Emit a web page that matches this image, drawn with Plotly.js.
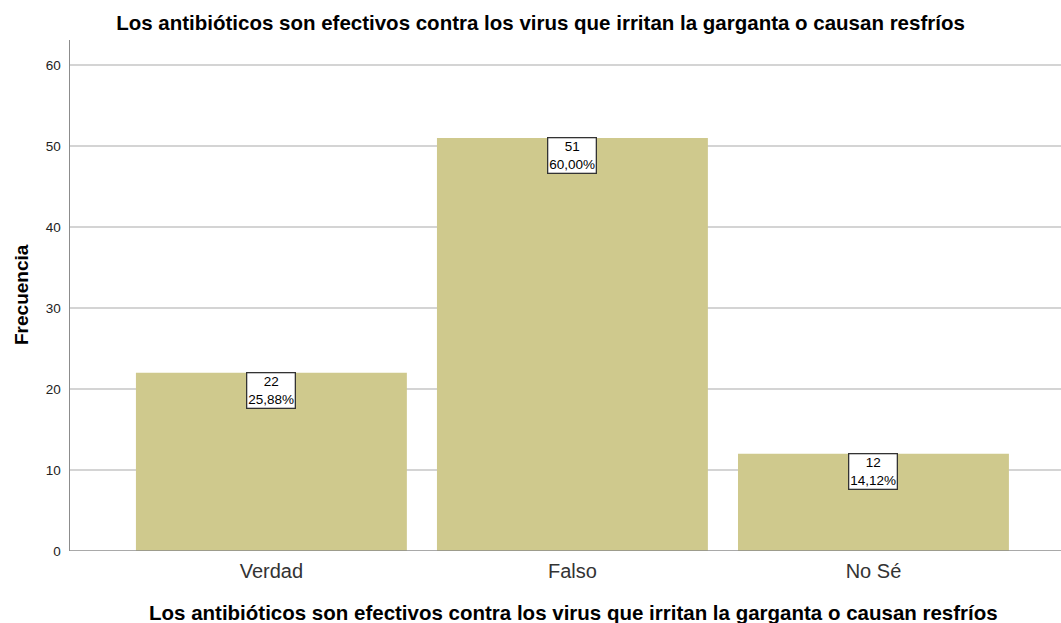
<!DOCTYPE html>
<html>
<head>
<meta charset="utf-8">
<script src="https://cdn.plot.ly/plotly-3.0.1.min.js"></script>
<style>html,body{margin:0;padding:0;background:#fff;}#chart{width:1061px;height:623px;}</style>
</head>
<body>
<div id="chart"></div>
<script>
const categories = ["Verdad", "Falso", "No Sé"];
const counts = [22, 51, 12];
const percentLabels = ["25,88%", "60,00%", "14,12%"];
const yTicks = [0, 10, 20, 30, 40, 50, 60];

const FONT = "Liberation Sans, Arial, sans-serif";
const titleText = "Los antibióticos son efectivos contra los virus que irritan la garganta o causan resfríos";

const trace = {
  type: "bar",
  x: categories,
  y: counts,
  width: 0.9,
  marker: {color: "#cfc98d", line: {width: 0}},
  hoverinfo: "none"
};

const annotations = categories.map((c, i) => ({
  x: c, y: counts[i], xref: "x", yref: "y",
  text: counts[i] + "<br>" + percentLabels[i],
  showarrow: false, yanchor: "top", xanchor: "center",
  yshift: 1,
  font: {family: FONT, size: 13.5, color: "#000"},
  bgcolor: "#fff", bordercolor: "#333", borderwidth: 1.3, borderpad: 1,
  align: "center"
}));

// x-axis title (bottom), placed in paper coords below the plot
annotations.push({
  text: titleText, xref: "paper", yref: "paper",
  x: (573 - 70) / 991, y: (551 - 612) / 511,
  xanchor: "center", yanchor: "middle", showarrow: false,
  font: {family: FONT, size: 20.5, color: "#000", weight: "bold"}
});

// y-axis title
annotations.push({
  text: "Frecuencia", xref: "paper", yref: "paper",
  x: (21 - 70) / 991, y: (551 - 295) / 511,
  xanchor: "center", yanchor: "middle", textangle: -90, showarrow: false,
  font: {family: FONT, size: 19, color: "#000", weight: "bold"}
});

const layout = {
  width: 1061, height: 623,
  margin: {l: 70, r: 0, t: 40, b: 72, pad: 0},
  paper_bgcolor: "#fff", plot_bgcolor: "#fff",
  showlegend: false,
  title: {
    text: titleText, x: 540.5 / 1061, xanchor: "center", y: 1 - 23 / 623, yanchor: "middle",
    xref: "container", yref: "container",
    font: {family: FONT, size: 20.5, color: "#000", weight: "bold"}
  },
  xaxis: {
    range: [-0.669, 2.623],
    showgrid: false, zeroline: false, showline: false,
    ticks: "", ticklabelstandoff: 6, tickfont: {family: FONT, size: 20, color: "#333"},
    fixedrange: true
  },
  yaxis: {
    range: [0, 63.09],
    tickvals: yTicks, ticktext: yTicks.map(String),
    showgrid: true, gridcolor: "#d4d4d4", gridwidth: 1.5,
    zeroline: false, showline: true, linecolor: "#8c8c8c", linewidth: 1.5,
    ticks: "", ticklen: 0, ticklabelstandoff: 5,
    tickfont: {family: FONT, size: 13.5, color: "#222"},
    fixedrange: true
  },
  shapes: [{
    type: "line", xref: "paper", yref: "y", x0: 0, x1: 1, y0: 0, y1: 0,
    line: {color: "#8c8c8c", width: 1.5}
  }],
  annotations: annotations,
  bargap: 0.1
};

Plotly.newPlot("chart", [trace], layout, {displayModeBar: false, staticPlot: true});
</script>
</body>
</html>
